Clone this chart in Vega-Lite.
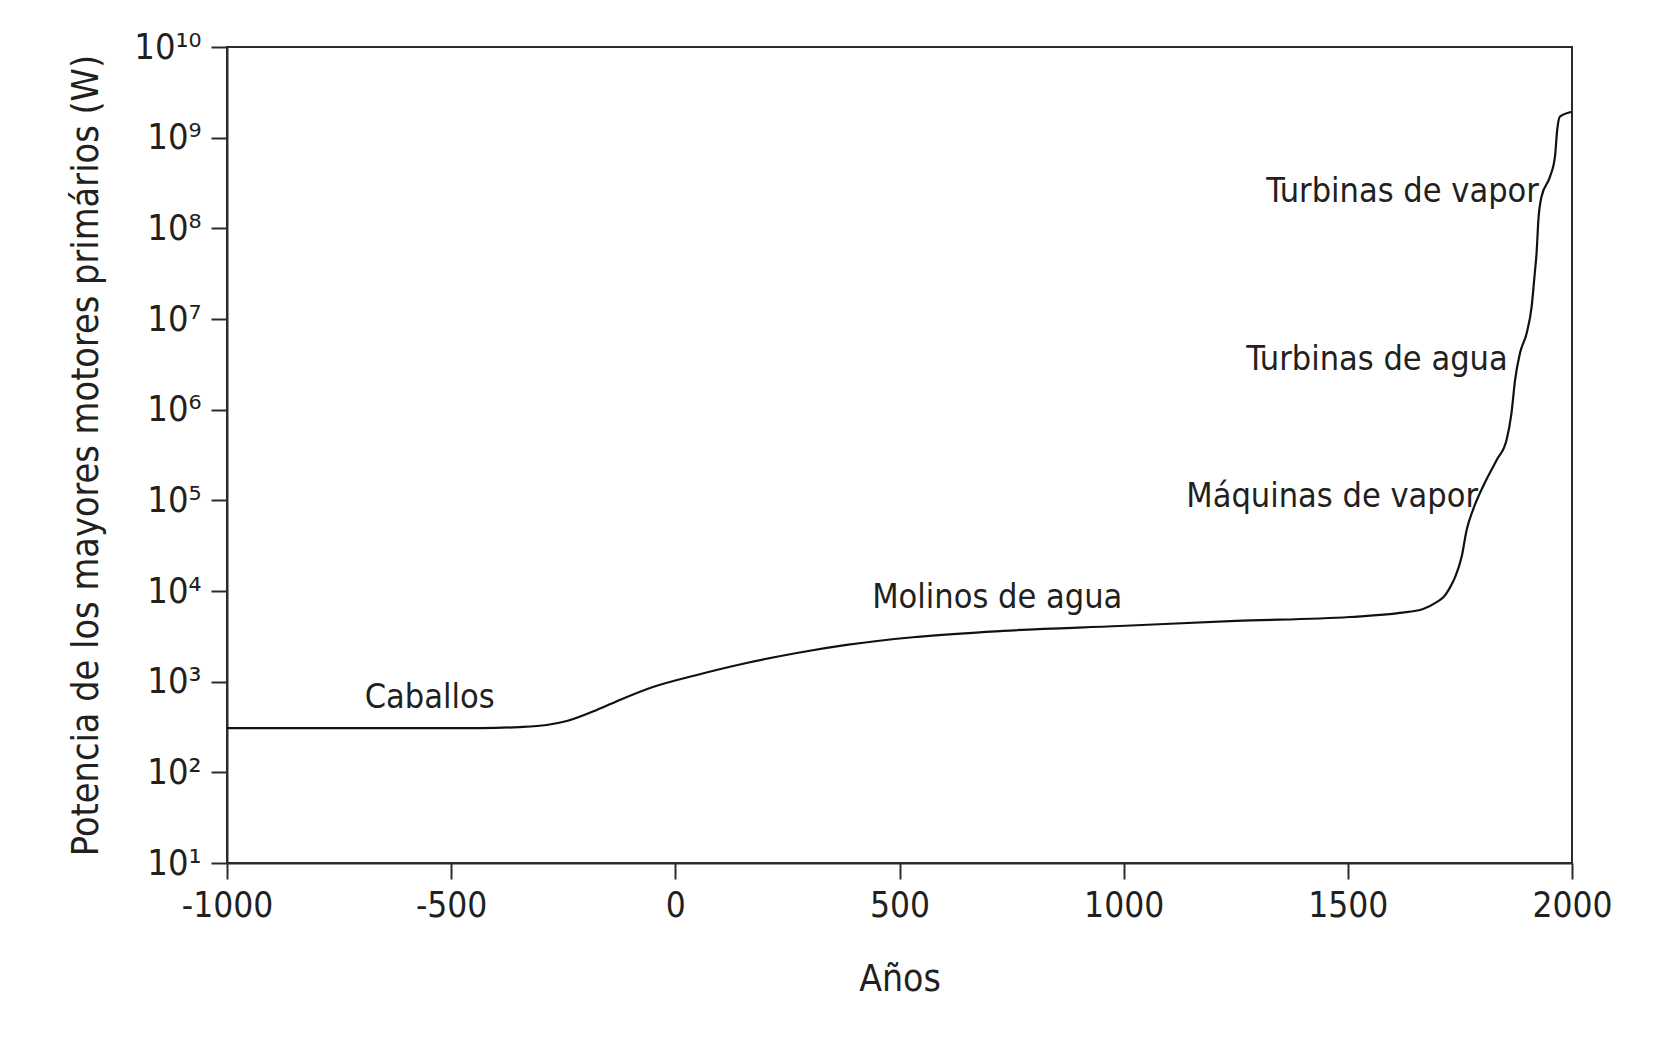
{
  "$schema": "https://vega.github.io/schema/vega-lite/v6.json",
  "autosize": "none",
  "width": 1345,
  "height": 816,
  "padding": {"left": 227, "top": 47, "right": 100, "bottom": 182},
  "background": "white",
  "config": {
    "font": "DejaVu Sans Condensed, Open Sans, sans-serif",
    "view": {"stroke": "#2b2b2b", "strokeWidth": 2},
    "axis": {
      "grid": false,
      "domainColor": "#2b2b2b",
      "domainWidth": 2,
      "tickColor": "#2b2b2b",
      "tickWidth": 2,
      "tickSize": 16,
      "labelFont": "DejaVu Sans Condensed, Open Sans, sans-serif",
      "labelFontSize": 35,
      "labelColor": "#231f20",
      "titleFont": "DejaVu Sans Condensed, Open Sans, sans-serif",
      "titleFontSize": 37.5,
      "titleFontWeight": "normal",
      "titleColor": "#231f20"
    }
  },
  "datasets": {
    "curve": [
      {"year": -1000, "watts": 308},
      {"year": -436, "watts": 308},
      {"year": -347, "watts": 316},
      {"year": -287, "watts": 333},
      {"year": -242, "watts": 368},
      {"year": -175, "watts": 488},
      {"year": -124, "watts": 628},
      {"year": -50, "watts": 873},
      {"year": 48, "watts": 1186},
      {"year": 159, "watts": 1607},
      {"year": 271, "watts": 2070},
      {"year": 382, "watts": 2541},
      {"year": 530, "watts": 3090},
      {"year": 731, "watts": 3631},
      {"year": 991, "watts": 4111},
      {"year": 1250, "watts": 4677},
      {"year": 1504, "watts": 5164},
      {"year": 1616, "watts": 5728},
      {"year": 1668, "watts": 6339},
      {"year": 1699, "watts": 7586},
      {"year": 1713, "watts": 8511},
      {"year": 1728, "watts": 10965},
      {"year": 1739, "watts": 14125},
      {"year": 1754, "watts": 23988},
      {"year": 1765, "watts": 47098},
      {"year": 1779, "watts": 78163},
      {"year": 1801, "watts": 140281},
      {"year": 1832, "watts": 278612},
      {"year": 1854, "watts": 462381},
      {"year": 1865, "watts": 918333},
      {"year": 1873, "watts": 2123244},
      {"year": 1884, "watts": 4216965},
      {"year": 1899, "watts": 7014553},
      {"year": 1910, "watts": 13677288},
      {"year": 1917, "watts": 32137000},
      {"year": 1921, "watts": 53456000},
      {"year": 1925, "watts": 123595000},
      {"year": 1932, "watts": 223357000},
      {"year": 1951, "watts": 371535000},
      {"year": 1962, "watts": 616595000},
      {"year": 1967, "watts": 1216186000},
      {"year": 1973, "watts": 1702159000},
      {"year": 2000, "watts": 1931970000}
    ],
    "labels": [
      {"label": "Caballos", "year": -548, "watts": 661},
      {"label": "Molinos de agua", "year": 718, "watts": 8375},
      {"label": "Máquinas de vapor", "year": 1465, "watts": 108900},
      {"label": "Turbinas de agua", "year": 1565, "watts": 3491000},
      {"label": "Turbinas de vapor", "year": 1622, "watts": 251800000}
    ]
  },
  "layer": [
    {
      "data": {"name": "curve"},
      "mark": {"type": "line", "color": "#111111", "strokeWidth": 2.2, "interpolate": "monotone"},
      "encoding": {
        "x": {
          "field": "year", "type": "quantitative",
          "scale": {"domain": [-1000, 2000], "nice": false, "zero": false},
          "axis": {"values": [-1000, -500, 0, 500, 1000, 1500, 2000], "labelExpr": "datum.value < 0 ? '-' + abs(datum.value) : '' + datum.value", "title": "Años", "titleFontSize": 37, "labelPadding": 9, "titlePadding": 38, "labelFlush": false}
        },
        "y": {
          "field": "watts", "type": "quantitative",
          "scale": {"type": "log", "domain": [10, 10000000000], "nice": false},
          "axis": {
            "values": [10, 100, 1000, 10000, 100000, 1000000, 10000000, 100000000, 1000000000, 10000000000],
            "labelExpr": "['10⁰','10¹','10²','10³','10⁴','10⁵','10⁶','10⁷','10⁸','10⁹','10¹⁰'][round(log(datum.value)/LN10)]",
            "labelFontSize": 36,
            "labelPadding": 10,
            "labelFlush": false,
            "title": "Potencia de los mayores motores primários (W)",
            "titlePadding": 28
          }
        }
      }
    },
    {
      "data": {"name": "labels"},
      "mark": {"type": "text", "font": "DejaVu Sans Condensed, Open Sans, sans-serif", "fontSize": 34, "color": "#231f20", "align": "center", "baseline": "middle"},
      "encoding": {
        "x": {"field": "year", "type": "quantitative"},
        "y": {"field": "watts", "type": "quantitative"},
        "text": {"field": "label"}
      }
    }
  ]
}
